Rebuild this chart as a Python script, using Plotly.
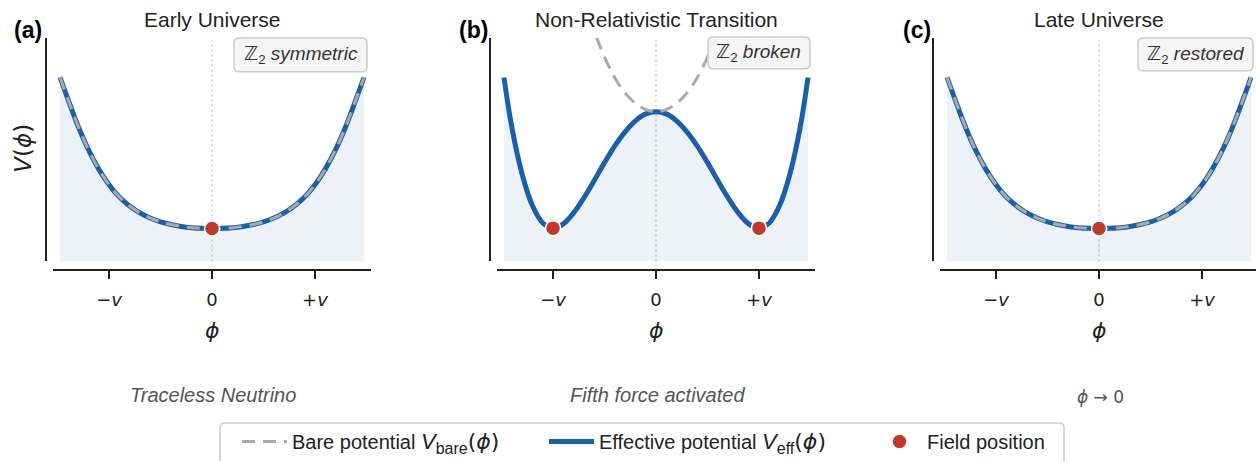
import plotly.graph_objects as go

# ---------------- data ----------------
phi_grid = [-1.476, -1.4, -1.3, -1.2, -1.1, -1.0, -0.9, -0.8, -0.7, -0.6, -0.5, -0.4,
            -0.3, -0.2, -0.1, 0.0, 0.1, 0.2, 0.3, 0.4, 0.5, 0.6, 0.7, 0.8, 0.9, 1.0,
            1.1, 1.2, 1.3, 1.4, 1.476]

# Early / late universe: symmetric potential (bare == effective)
v_symmetric = [0.824, 0.727, 0.605, 0.500, 0.413, 0.343, 0.288, 0.248, 0.217, 0.194, 0.177,
               0.165, 0.1565, 0.151, 0.148, 0.147, 0.148, 0.151, 0.1565, 0.165, 0.177, 0.194,
               0.217, 0.248, 0.288, 0.343, 0.413, 0.500, 0.605, 0.727, 0.824]

# Non-relativistic transition: double well effective potential
v_eff_broken = [0.823, 0.60, 0.39, 0.250, 0.172, 0.149, 0.168, 0.217, 0.285, 0.362, 0.442, 0.517,
                0.580, 0.629, 0.660, 0.670, 0.660, 0.629, 0.580, 0.517, 0.442, 0.362, 0.285,
                0.217, 0.168, 0.149, 0.172, 0.250, 0.39, 0.60, 0.823]

# Bare potential during the transition (runs off the top of the panel)
phi_bare_b = [-0.7, -0.6, -0.5, -0.4, -0.3, -0.2, -0.1, 0.0, 0.1, 0.2, 0.3, 0.4, 0.5, 0.6, 0.7]
v_bare_b = [1.183, 1.033, 0.914, 0.822, 0.753, 0.707, 0.679, 0.670, 0.679, 0.707, 0.753,
            0.822, 0.914, 1.033, 1.183]

# field positions
field_a_x, field_a_y = [0.0], [0.147]
field_b_x, field_b_y = [-1.0, 1.0], [0.149, 0.149]
field_c_x, field_c_y = [0.0], [0.147]

panel_titles = ["Early Universe", "Non-Relativistic Transition", "Late Universe"]
panel_labels = ["(a)", "(b)", "(c)"]
badge_texts = ["symmetric", "broken", "restored"]
captions = ["<i>Traceless Neutrino</i>", "<i>Fifth force activated</i>", "<i>ϕ</i> → 0"]
tick_vals = [-1, 0, 1]
tick_text = ["−<i>v</i>", "0", "+<i>v</i>"]

# ---------------- style ----------------
W, H = 1256, 461
BLUE = "#1b5fab"
GRAY = "#aaaaaa"
RED = "#c0392b"
FILL = "rgba(27,95,171,0.08)"
INK = "#222222"
SANS = "Liberation Sans, Arial, sans-serif"
MATH = "DejaVu Sans, sans-serif"


def px(x):
    return x / W


def py(y):
    return 1 - y / H


def math_label(sub):
    return (f"<span style='font-size:22px'><i>V</i></span>"
            f"<sub><span style='font-size:16px'>{sub}</span></sub>"
            f"<span style='font-family:DejaVu Sans;font-size:22px'>(<i>ϕ</i>)</span>")


# pixel layout of each panel
x_dom_px = [(53, 371), (497, 815), (940, 1256)]
x_ranges = [[-1.544, 1.544], [-1.544, 1.544], [-1.544, 1.524]]
yline_px = [46, 490, 933]
centers_px = [212, 656, 1099]
label_left_px = [12, 457, 901]
badge_px = [(234, 367, 38, 72), (708, 810, 37, 69), (1138, 1253, 38, 71)]
y_dom = [py(262), py(38)]
xaxis_pos = py(271)

fig = go.Figure()

panels = [
    dict(v_eff=v_symmetric, bare_x=phi_grid, bare_y=v_symmetric, fx=field_a_x, fy=field_a_y),
    dict(v_eff=v_eff_broken, bare_x=phi_bare_b, bare_y=v_bare_b, fx=field_b_x, fy=field_b_y),
    dict(v_eff=v_symmetric, bare_x=phi_grid, bare_y=v_symmetric, fx=field_c_x, fy=field_c_y),
]

for i, p in enumerate(panels):
    xa = "x" if i == 0 else f"x{i+1}"
    ya = "y" if i == 0 else f"y{i+1}"
    first = i == 0
    # fill under effective potential
    fig.add_trace(go.Scatter(x=phi_grid, y=p["v_eff"], mode="lines", fill="tozeroy",
                             fillcolor=FILL, line=dict(width=0, shape="spline"),
                             hoverinfo="skip", showlegend=False, xaxis=xa, yaxis=ya))
    # effective potential
    fig.add_trace(go.Scatter(x=phi_grid, y=p["v_eff"], mode="lines",
                             line=dict(color=BLUE, width=5, shape="spline"),
                             name="Effective potential " + math_label("eff"),
                             showlegend=first, legend="legend2", xaxis=xa, yaxis=ya))
    # bare potential
    fig.add_trace(go.Scatter(x=p["bare_x"], y=p["bare_y"], mode="lines",
                             line=dict(color=GRAY, width=3, dash="13px,8px", shape="spline"),
                             name="Bare potential " + math_label("bare"),
                             showlegend=first, legend="legend", xaxis=xa, yaxis=ya))
    # field position
    fig.add_trace(go.Scatter(x=p["fx"], y=p["fy"], mode="markers",
                             marker=dict(color=RED, size=15, line=dict(color="white", width=1.5)),
                             name="Field position", showlegend=first, legend="legend3",
                             cliponaxis=False, xaxis=xa, yaxis=ya))

layout = dict(
    width=W, height=H, margin=dict(l=0, r=0, t=0, b=0),
    paper_bgcolor="white", plot_bgcolor="white",
    font=dict(family=SANS, color=INK, size=20),
    showlegend=True,
)

for i in range(3):
    xk = "xaxis" if i == 0 else f"xaxis{i+1}"
    yk = "yaxis" if i == 0 else f"yaxis{i+1}"
    layout[xk] = dict(domain=[px(x_dom_px[i][0]), px(x_dom_px[i][1])], range=x_ranges[i],
                      anchor="free", position=xaxis_pos, showline=True, linecolor=INK,
                      linewidth=2, ticks="outside", ticklen=8, tickwidth=2, tickcolor=INK,
                      tickvals=tick_vals, ticktext=tick_text, ticklabelstandoff=5,
                      tickfont=dict(family=MATH, size=18, color=INK),
                      showgrid=False, zeroline=False, fixedrange=True)
    layout[yk] = dict(domain=y_dom, range=[0, 1], anchor="free", position=px(yline_px[i]),
                      showline=True, linecolor=INK, linewidth=2, ticks="",
                      showticklabels=False, showgrid=False, zeroline=False, fixedrange=True)

# legends, one per entry, placed along a shared frame
leg_common = dict(orientation="h", bgcolor="rgba(0,0,0,0)", borderwidth=0,
                  font=dict(family=SANS, size=20, color=INK), yanchor="middle",
                  xanchor="left", y=py(442), itemclick=False, itemdoubleclick=False,
                  itemwidth=45)
layout["legend"] = dict(leg_common, x=px(237))
layout["legend2"] = dict(leg_common, x=px(544))
layout["legend3"] = dict(leg_common, x=px(872))

fig.update_layout(**layout)

shapes = []
annotations = []


def rounded_rect(x0, x1, y0, y1, r=4):
    rx, ry = r / W, r / H
    X0, X1, Y0, Y1 = px(x0), px(x1), py(y1), py(y0)  # Y0 bottom, Y1 top
    return (f"M{X0+rx},{Y1} L{X1-rx},{Y1} Q{X1},{Y1} {X1},{Y1-ry} "
            f"L{X1},{Y0+ry} Q{X1},{Y0} {X1-rx},{Y0} L{X0+rx},{Y0} "
            f"Q{X0},{Y0} {X0},{Y0+ry} L{X0},{Y1-ry} Q{X0},{Y1} {X0+rx},{Y1} Z")


for i in range(3):
    xa = "x" if i == 0 else f"x{i+1}"
    ya = "y" if i == 0 else f"y{i+1}"
    # dotted centre line
    shapes.append(dict(type="line", xref=xa, yref=ya, x0=0, x1=0, y0=0, y1=0.99,
                       line=dict(color="#cccccc", width=1.5, dash="2px,3px"), layer="below"))
    # badge
    bx0, bx1, by0, by1 = badge_px[i]
    shapes.append(dict(type="path", xref="paper", yref="paper",
                       path=rounded_rect(bx0, bx1, by0, by1, 5),
                       fillcolor="rgba(245,245,245,0.95)", line=dict(color="#cccccc", width=1.5),
                       layer="above"))
    annotations.append(dict(xref="paper", yref="paper", x=px((bx0 + bx1) / 2),
                            y=py((by0 + by1) / 2), xanchor="center", yanchor="middle",
                            text=f"<span style='font-family:DejaVu Sans'>ℤ</span><sub>2</sub> <i>{badge_texts[i]}</i>",
                            showarrow=False, font=dict(family=SANS, size=19, color="#333333")))
    # title
    annotations.append(dict(xref="paper", yref="paper", x=px(centers_px[i]), y=py(20),
                            xanchor="center", yanchor="middle", text=panel_titles[i],
                            showarrow=False, font=dict(family=SANS, size=21, color=INK)))
    # panel label
    annotations.append(dict(xref="paper", yref="paper", x=px(label_left_px[i]), y=py(30),
                            xanchor="left", yanchor="middle", text=f"<b>{panel_labels[i]}</b>",
                            showarrow=False, font=dict(family=SANS, size=23, color="black")))
    # x-axis title
    annotations.append(dict(xref="paper", yref="paper", x=px(centers_px[i]), y=py(331),
                            xanchor="center", yanchor="middle", text="<i>ϕ</i>",
                            showarrow=False, font=dict(family=MATH, size=22, color=INK)))
    # caption
    cap_font = dict(family=SANS, size=20, color="#555555") if i < 2 else \
        dict(family=MATH, size=17, color="#555555")
    annotations.append(dict(xref="paper", yref="paper", x=px(centers_px[i] + 1),
                            y=py(396 if i < 2 else 398), xanchor="center", yanchor="middle",
                            text=captions[i], showarrow=False, font=cap_font))

# y-axis title
annotations.append(dict(xref="paper", yref="paper", x=px(23), y=py(149), xanchor="center",
                        yanchor="middle", text="<i>V</i>(<i>ϕ</i>)", textangle=-90,
                        showarrow=False, font=dict(family=MATH, size=23, color=INK)))

# legend frame
shapes.append(dict(type="path", xref="paper", yref="paper",
                   path=rounded_rect(220, 1064, 424, 480, 5), fillcolor="white",
                   line=dict(color="#cccccc", width=1.5), layer="below"))

fig.update_layout(shapes=shapes, annotations=annotations)
fig.write_html("out.html", post_script="document.body.style.margin='0';",
               config={"displayModeBar": False})
